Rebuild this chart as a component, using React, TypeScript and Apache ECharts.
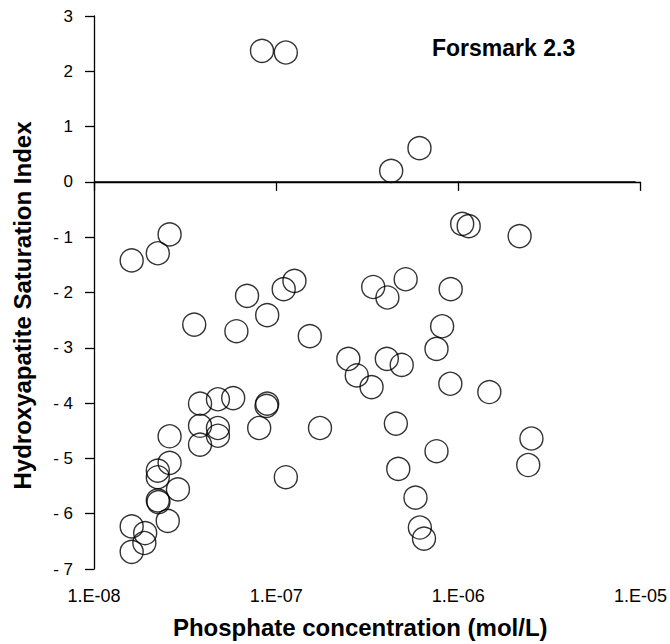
import React, { useEffect, useRef } from "react";
import * as echarts from "echarts";

const phosphate: number[] = [
  8.36e-8, 1.13e-7, 4.28e-7, 6.12e-7, 1.61e-8, 2.24e-8, 2.6e-8, 1.05e-6, 1.14e-6, 2.17e-6,
  6.92e-8, 1.1e-7, 1.26e-7, 8.93e-8, 3.55e-8, 6.05e-8, 1.53e-7, 3.41e-7, 4.08e-7, 5.14e-7,
  9.08e-7, 8.15e-7, 7.59e-7, 2.49e-7, 2.77e-7, 3.34e-7, 4.05e-7, 4.89e-7, 9.04e-7, 1.48e-6,
  4.54e-7, 7.59e-7, 2.52e-6, 2.42e-6, 4.68e-7, 5.82e-7, 6.15e-7, 6.48e-7, 3.82e-8, 4.79e-8,
  5.81e-8, 8.93e-8, 8.85e-8, 3.82e-8, 4.79e-8, 4.79e-8, 3.82e-8, 8.07e-8, 1.74e-7, 2.6e-8,
  2.6e-8, 2.24e-8, 2.24e-8, 2.89e-8, 2.24e-8, 2.26e-8, 2.54e-8, 1.61e-8, 1.91e-8, 1.89e-8,
  1.61e-8, 1.13e-7,
];
const saturationIndex: number[] = [
  2.37, 2.34, 0.2, 0.61, -1.42, -1.29, -0.95, -0.76, -0.8, -0.98,
  -2.06, -1.94, -1.79, -2.41, -2.58, -2.7, -2.79, -1.9, -2.09, -1.76,
  -1.94, -2.61, -3.02, -3.2, -3.5, -3.71, -3.2, -3.31, -3.65, -3.8,
  -4.37, -4.87, -4.64, -5.12, -5.19, -5.71, -6.25, -6.45, -4.01, -3.93,
  -3.91, -4.01, -4.05, -4.41, -4.45, -4.59, -4.75, -4.45, -4.45, -4.6,
  -5.08, -5.22, -5.34, -5.56, -5.76, -5.79, -6.13, -6.23, -6.35, -6.53,
  -6.69, -5.34,
];

const xMin = 1e-8;
const xMax = 1e-5;
const zeroLineEnd = 9.4e-6;
const yMin = -7;
const yMax = 3;
const titleText = "Forsmark 2.3";
const xName = "Phosphate concentration (mol/L)";
const yName = "Hydroxyapatite Saturation Index";

const FONT = 'Arial, "Liberation Sans", Helvetica, sans-serif';

export default function App() {
  const ref = useRef<HTMLDivElement>(null);
  useEffect(() => {
    if (!ref.current) return;
    const chart = echarts.init(ref.current, null, { renderer: "svg" });
    const data = phosphate.map((x, i) => [x, saturationIndex[i]]);
    chart.setOption({
      animation: false,
      backgroundColor: "#ffffff",
      textStyle: { fontFamily: FONT },
      title: {
        text: titleText,
        left: 432,
        top: 36,
        padding: 0,
        textStyle: { fontFamily: FONT, fontWeight: "bold", fontSize: 23, color: "#000" },
      },
      grid: { left: 94, right: 25, top: 16, bottom: 75, containLabel: false },
      xAxis: {
        type: "log",
        logBase: 10,
        min: xMin,
        max: xMax,
        name: xName,
        nameLocation: "middle",
        nameGap: 46,
        nameTextStyle: {
          fontFamily: FONT,
          fontWeight: "bold",
          fontSize: 24,
          color: "#000",
          padding: [0, 14, 0, 0],
        },
        axisLine: { show: true, lineStyle: { color: "#000", width: 1.3 } },
        axisTick: { show: true, inside: false, length: 9, lineStyle: { color: "#000", width: 1.3 } },
        minorTick: { show: false },
        splitLine: { show: false },
        axisLabel: {
          margin: 18,
          fontSize: 18,
          fontFamily: FONT,
          color: "#000",
          formatter: (v: number) => {
            const e = Math.round(Math.log10(v));
            const a = Math.abs(e);
            return "1.E" + (e < 0 ? "-" : "+") + (a < 10 ? "0" + a : String(a));
          },
        },
      },
      yAxis: {
        type: "value",
        min: yMin,
        max: yMax,
        interval: 1,
        name: yName,
        nameLocation: "middle",
        nameGap: 60,
        nameTextStyle: {
          fontFamily: FONT,
          fontWeight: "bold",
          fontSize: 24,
          color: "#000",
          padding: [0, 26, 0, 0],
        },
        axisLine: { show: true, lineStyle: { color: "#000", width: 1.3 } },
        axisTick: { show: true, inside: false, length: 9, lineStyle: { color: "#000", width: 1.3 } },
        splitLine: { show: false },
        axisLabel: {
          margin: 21,
          fontSize: 17,
          fontFamily: FONT,
          color: "#000",
          formatter: (v: number) => (v < 0 ? "- " + Math.abs(v) : String(v)),
        },
      },
      series: [
        {
          type: "scatter",
          data,
          symbol: "circle",
          symbolSize: 23,
          itemStyle: { color: "rgba(255,255,255,0)", borderColor: "#000", borderWidth: 1.4 },
          emphasis: { disabled: true },
          markLine: {
            silent: true,
            symbol: "none",
            label: { show: false },
            lineStyle: { color: "#000", type: "solid", width: 1.6 },
            data: [[{ coord: [xMin, 0] }, { coord: [zeroLineEnd, 0] }]],
          },
        },
      ],
    });
    return () => chart.dispose();
  }, []);
  return (
    <div
      ref={ref}
      style={{ position: "absolute", left: 0, top: 0, width: 670, height: 644 }}
    />
  );
}
